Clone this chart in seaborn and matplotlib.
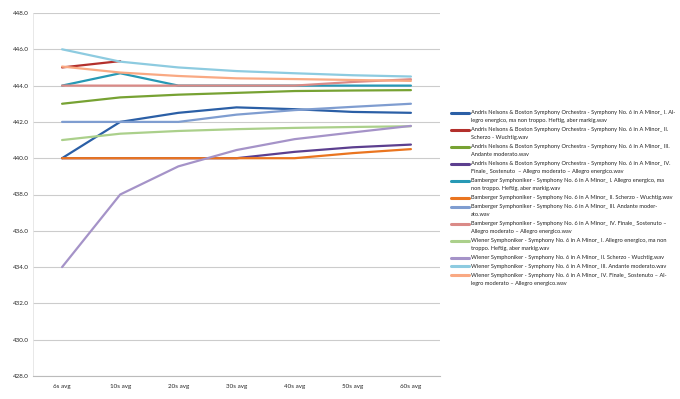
import numpy as np
import pandas as pd
import seaborn as sns
import matplotlib.pyplot as plt
from matplotlib.lines import Line2D

# x categories
windows = ['6s avg', '10s avg', '20s avg', '30s avg', '40s avg', '50s avg', '60s avg']

# one list per recording
andris_1 = [440.0, 442.0, 442.5, 442.8, 442.7, 442.55, 442.5]
andris_2 = [445.0, 445.35, np.nan, np.nan, np.nan, np.nan, np.nan]
andris_3 = [443.0, 443.35, 443.5, 443.6, 443.7, 443.73, 443.75]
andris_4 = [440.0, 440.0, 440.0, 440.0, 440.35, 440.6, 440.75]
bamberg_1 = [444.0, 444.68, 444.0, 444.0, 444.0, 444.0, 444.0]
bamberg_2 = [440.0, 440.0, 440.0, 440.0, 440.0, 440.28, 440.5]
bamberg_3 = [442.0, 442.0, 442.0, 442.4, 442.65, 442.83, 443.0]
bamberg_4 = [444.0, 444.0, 444.0, 444.0, 444.0, 444.2, 444.35]
wiener_1 = [441.0, 441.35, 441.5, 441.6, 441.67, 441.72, 441.76]
wiener_2 = [434.0, 438.0, 439.55, 440.45, 441.05, 441.42, 441.78]
wiener_3 = [446.0, 445.32, 445.0, 444.8, 444.68, 444.57, 444.5]
wiener_4 = [445.05, 444.72, 444.53, 444.4, 444.36, 444.31, 444.26]

names = [
    'Andris Nelsons & Boston Symphony Orchestra - Symphony No. 6 in A Minor_ I. Al-\nlegro energico, ma non troppo. Heftig, aber markig.wav',
    'Andris Nelsons & Boston Symphony Orchestra - Symphony No. 6 in A Minor_ II.\nScherzo - Wuchtig.wav',
    'Andris Nelsons & Boston Symphony Orchestra - Symphony No. 6 in A Minor_ III.\nAndante moderato.wav',
    'Andris Nelsons & Boston Symphony Orchestra - Symphony No. 6 in A Minor_ IV.\nFinale_ Sostenuto  \u2013 Allegro moderato \u2013 Allegro energico.wav',
    'Bamberger Symphoniker - Symphony No. 6 in A Minor_ I. Allegro energico, ma\nnon troppo. Heftig, aber markig.wav',
    'Bamberger Symphoniker - Symphony No. 6 in A Minor_ II. Scherzo - Wuchtig.wav',
    'Bamberger Symphoniker - Symphony No. 6 in A Minor_ III. Andante moder-\nato.wav',
    'Bamberger Symphoniker - Symphony No. 6 in A Minor_ IV. Finale_ Sostenuto \u2013\nAllegro moderato \u2013 Allegro energico.wav',
    'Wiener Symphoniker - Symphony No. 6 in A Minor_ I. Allegro energico, ma non\ntroppo. Heftig, aber markig.wav',
    'Wiener Symphoniker - Symphony No. 6 in A Minor_ II. Scherzo - Wuchtig.wav',
    'Wiener Symphoniker - Symphony No. 6 in A Minor_ III. Andante moderato.wav',
    'Wiener Symphoniker - Symphony No. 6 in A Minor_ IV. Finale_ Sostenuto \u2013 Al-\nlegro moderato \u2013 Allegro energico.wav',
]
series = [andris_1, andris_2, andris_3, andris_4, bamberg_1, bamberg_2,
          bamberg_3, bamberg_4, wiener_1, wiener_2, wiener_3, wiener_4]

colors = ['#2b5fa6', '#b3302c', '#77a233', '#5c3f8f', '#2799b5', '#ea7520',
          '#7f9dd0', '#da8a87', '#abd08b', '#a593c8', '#8dcbe0', '#f9a983']

rows = []
for name, vals in zip(names, series):
    for i, v in enumerate(vals):
        rows.append({'x': i, 'value': v, 'track': name})
df = pd.DataFrame(rows).dropna()

sns.set_style('white')
plt.rcParams['font.family'] = ['Lato', 'DejaVu Sans']

W, H = 680, 399
fig = plt.figure(figsize=(W / 100, H / 100), dpi=100)
ax = fig.add_axes([33 / W, 1 - 376 / H, (440 - 33) / W, (376 - 13) / H])

sns.lineplot(data=df, x='x', y='value', hue='track', hue_order=names,
             palette=colors, linewidth=1.6, ax=ax, legend=False)

ax.set_xlim(-0.5, len(windows) - 0.5)
ax.set_ylim(428, 448)
ax.set_yticks(np.arange(428, 449, 2))
ax.set_yticklabels(['%.1f' % v for v in np.arange(428, 449, 2)], fontsize=4.5)
ax.set_xticks(range(len(windows)))
ax.set_xticklabels(windows, fontsize=4.5)
ax.set_xticks(np.arange(-0.5, len(windows), 1), minor=True)
ax.tick_params(axis='x', which='major', length=0, pad=6)
ax.tick_params(axis='x', which='minor', length=3, color='#bbbbbb', width=0.6)
ax.tick_params(axis='y', length=0, pad=3)
ax.set_xlabel('')
ax.set_ylabel('')
ax.grid(axis='y', color='#cccccc', linewidth=0.8)
for side in ['top', 'right']:
    ax.spines[side].set_visible(False)
ax.spines['bottom'].set_color('#bbbbbb')
ax.spines['left'].set_color('#e4e4e4')
ax.spines['left'].set_linewidth(0.6)

# legend laid out by hand: the handle sits on the first text line, like Excel does
y = 112.7
pitch = 8.15
for name, col in zip(names, colors):
    fig.add_artist(Line2D([451 / W, 469 / W], [1 - y / H, 1 - y / H],
                          color=col, linewidth=2.2, transform=fig.transFigure))
    parts = name.split('\n')
    for j, part in enumerate(parts):
        fig.text(471 / W, 1 - (y + j * pitch) / H, part, fontsize=4.1,
                 va='center', ha='left', color='#222222')
    y += len(parts) * pitch + 0.7

fig.savefig('out.png', dpi=100)
